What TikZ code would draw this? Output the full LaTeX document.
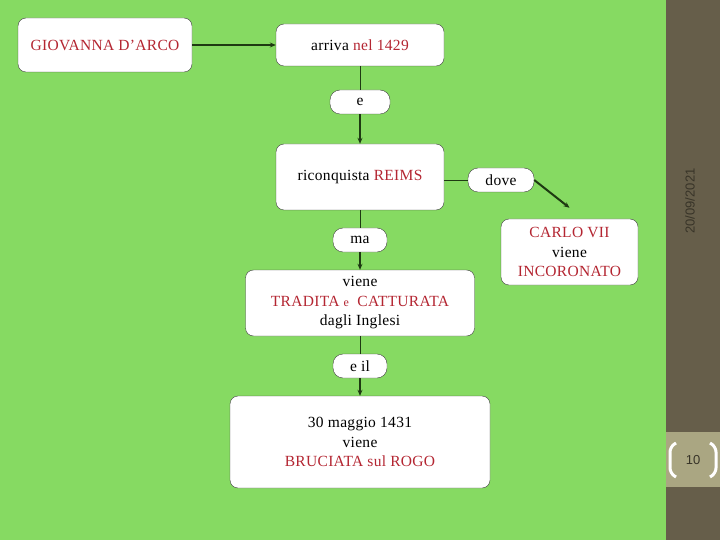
\documentclass[tikz,border=0pt]{standalone}
\usepackage{fontspec}
\setmainfont{Liberation Serif}[LetterSpace=2]
\newfontfamily\slidefont{Liberation Sans}
\usetikzlibrary{arrows.meta,positioning}

\definecolor{bggreen}{RGB}{134,218,98}
\definecolor{stripbrown}{RGB}{102,94,74}
\definecolor{bandbeige}{RGB}{170,166,130}
\definecolor{linkgreen}{RGB}{30,58,18}
\definecolor{conceptred}{RGB}{180,38,50}
\definecolor{datebrown}{RGB}{56,52,40}

\begin{document}
\begin{tikzpicture}[x=1pt, y=-1pt, node distance=60pt, on grid, >={Stealth[length=6pt,width=5pt]},
        concept/.style={draw=black!75, fill=white, rounded corners=8pt, align=center, inner sep=2pt,
            font=\fontsize{15.5}{19.5}\selectfont},
        linker/.style={concept, rounded corners=10pt, minimum height=24pt},
        link/.style={draw=linkgreen, line width=0.9pt},
        arrowlink/.style={draw=linkgreen, line width=2pt, ->}]
        \fill[bggreen] (0,0) rectangle (720,540);
        \fill[stripbrown] (666,0) rectangle (720,540);
        \fill[bandbeige] (666,432) rectangle (720,487);

        \node[concept, minimum width=174pt, minimum height=54pt, text=conceptred] (giov) at (105,45) {GIOVANNA D'ARCO};
        \node[concept, minimum width=168pt, minimum height=42pt, right=255pt of giov] (arriva) {arriva \textcolor{conceptred}{nel 1429}};
        \node[linker, minimum width=60pt, below=57pt of arriva] (e1) {e};
        \node[concept, minimum width=168pt, minimum height=66pt, below=75pt of e1] (reims) {riconquista \textcolor{conceptred}{REIMS}};

        \node[linker, minimum width=66pt, below right=3pt and 141pt of reims] (dove) {dove};
        \node[concept, minimum width=137pt, minimum height=66pt, below right=72pt and 68.5pt of dove] (carlo)
            {\textcolor{conceptred}{CARLO VII}\\ viene\\ \textcolor{conceptred}{INCORONATO}};

        \node[linker, minimum width=54pt, below=63pt of reims] (ma) {ma};
        \node[concept, minimum width=229pt, minimum height=66pt, below=63pt of ma] (tradita)
            {viene\\ \textcolor{conceptred}{TRADITA {\fontsize{12}{13}\selectfont e}\ \ CATTURATA}\\ dagli Inglesi};
        \node[linker, minimum width=54pt, below=63pt of tradita] (eil) {e il};
        \node[concept, minimum width=260pt, minimum height=92pt, below=76pt of eil] (rogo)
            {30 maggio 1431\\ viene\\ \textcolor{conceptred}{BRUCIATA sul ROGO}};

        \draw[arrowlink] (giov) -- (arriva);
        \draw[link] (arriva) -- (e1);
        \draw[arrowlink] (e1) -- (reims);
        \draw[link] (reims.east |- dove.west) -- (dove.west);
        \draw[arrowlink] (dove.east) -- ([yshift=11pt]carlo.north);
        \draw[link] (reims) -- (ma);
        \draw[arrowlink] (ma) -- (tradita);
        \draw[link] (tradita) -- (eil);
        \draw[arrowlink] (eil) -- (rogo);

        \node[rotate=90, text=datebrown, font=\slidefont\fontsize{13}{15}\selectfont] (datum) at (690,201) {20/09/2021};
        \node[text=datebrown, font=\slidefont\fontsize{13}{15}\selectfont] (pagina) at (693,460) {10};
        \draw[white, line width=3pt, rounded corners=5pt] (676,443) -- (670,447) -- (670,473) -- (676,477);
        \draw[white, line width=3pt, rounded corners=5pt] (710,443) -- (716,447) -- (716,473) -- (710,477);
    \end{tikzpicture}
\end{document}
